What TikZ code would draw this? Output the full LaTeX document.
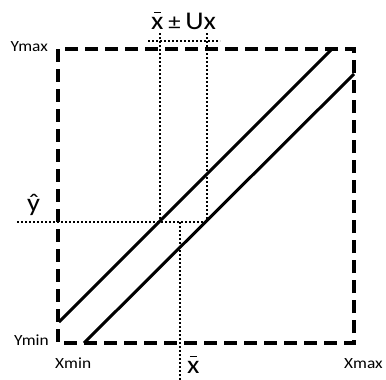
\documentclass[tikz,border=0pt]{standalone}
\usepackage{fontspec}
\setmainfont{Carlito}
\newcommand{\xbarsym}{\ooalign{x\cr\hidewidth\raisebox{0.62em}{\rule{0.24em}{0.05em}}\hidewidth\cr}}
\newcommand{\wide}[1]{\scalebox{1.12}[1]{#1}}
\begin{document}
\begin{tikzpicture}[x=1pt,y=-1pt,
  box/.style={line width=4pt, dash pattern=on 13pt off 7pt},
  fitline/.style={line width=3pt},
  guide/.style={line width=2pt, dash pattern=on 2pt off 2pt},
  small/.style={font=\fontsize{15.5}{15.5}\selectfont, anchor=base, inner sep=0pt},
  big/.style={font=\fontsize{25.5}{25.5}\selectfont, anchor=base, inner sep=0pt}]
\useasboundingbox (0,0) rectangle (386,380);
% box
\coordinate (TL) at (58,49);
\coordinate (BR) at (354,343);
\draw[box] (TL) rectangle (BR);
% fit lines
\coordinate (u1) at (59,322);
\coordinate (u2) at (332,49);
\coordinate (l1) at (84,343);
\coordinate (l2) at (354,74);
\draw[fitline] (u1) -- (u2);
\draw[fitline] (l1) -- (l2);
% guides
\coordinate (hy1) at (17,222);
\coordinate (hy2) at (207,222);
\coordinate (vl1) at (160,33);
\coordinate (vl2) at (160,222);
\coordinate (vr1) at (207,33);
\coordinate (vr2) at (207,222);
\coordinate (ht1) at (148,41);
\coordinate (ht2) at (220,41);
\coordinate (vx1) at (180,222);
\coordinate (vx2) at (180,380);
\draw[guide] (hy1) -- (hy2);
\draw[guide] (vl1) -- (vl2);
\draw[guide] (vr1) -- (vr2);
\draw[guide] (ht1) -- (ht2);
\draw[guide] (vx1) -- (vx2);
% labels
\node[big, anchor=base west] (tlab) at (151,29) {\wide{\xbarsym\,{\fontsize{22}{22}\selectfont ±}\,Ux}};
\node[small, anchor=base east] (ymax) at (48,51) {\wide{Ymax}};
\node[small, anchor=base east] (ymin) at (49,345) {\wide{Ymin}};
\node[small, anchor=base west] (xmin) at (55,368) {\wide{Xmin}};
\node[small, anchor=base west] (xmax) at (344,368) {\wide{Xmax}};
\node[big, anchor=base west] (yhat) at (27,211) {\wide{\^{y}}};
\node[big, anchor=base west] (xbar) at (187,373) {\wide{\xbarsym}};
\end{tikzpicture}
\end{document}
